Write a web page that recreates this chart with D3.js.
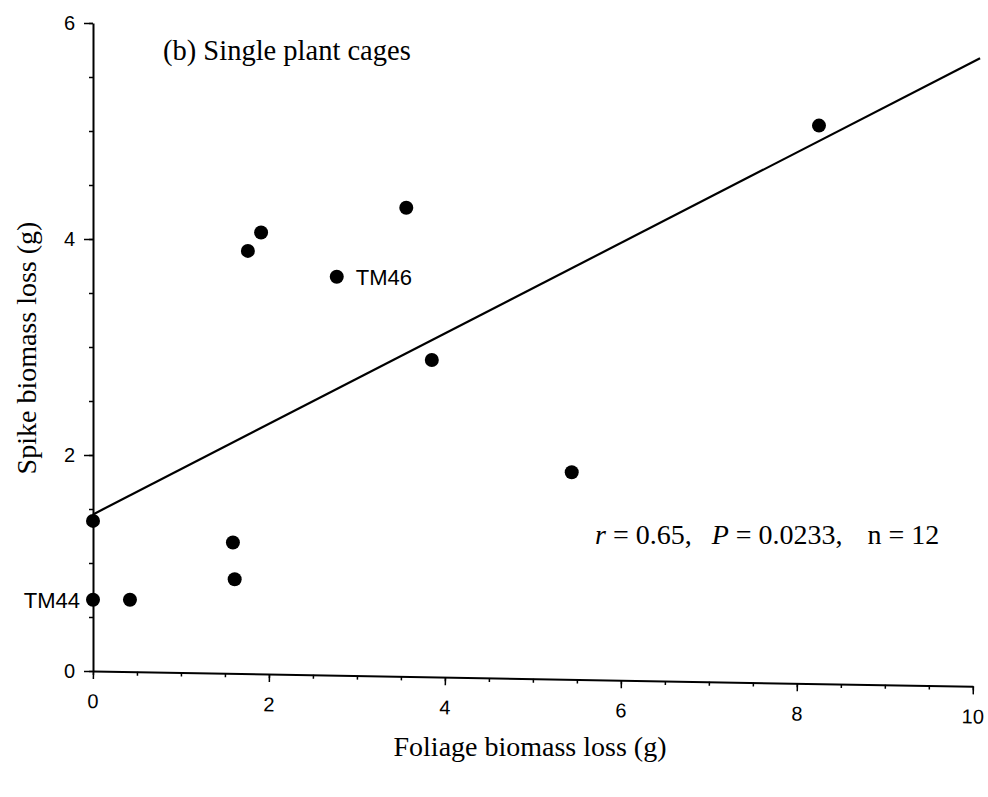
<!DOCTYPE html>
<html>
<head>
<meta charset="utf-8">
<script src="https://cdn.jsdelivr.net/npm/d3@7"></script>
<style>
  html, body { margin: 0; padding: 0; background: #fff; }
  svg { display: block; }
</style>
</head>
<body>
<svg id="chart" width="988" height="797"></svg>
<script>
// ---- data ----
const foliageLoss = [0, 0, 0.42, 1.59, 1.61, 1.76, 1.91, 2.77, 3.56, 3.85, 5.44, 8.25];
const spikeLoss   = [1.39, 0.66, 0.66, 1.19, 0.85, 3.89, 4.06, 3.65, 4.29, 2.88, 1.84, 5.05];
const pointLabels = ["", "TM44", "", "", "", "", "", "TM46", "", "", "", ""];
const fitIntercept = 1.45;
const fitSlope = 0.419;
const fitRange = [0, 10.08];
const xTicks = [0, 2, 4, 6, 8, 10];
const yTicks = [0, 2, 4, 6];
const xMinorTicks = d3.range(0, 10.01, 0.5);
const yMinorTicks = d3.range(0, 6.01, 0.5);
const titleText = "(b) Single plant cages";
const xTitle = "Foliage biomass loss (g)";
const yTitle = "Spike biomass loss (g)";
const statParts = [
  [{t: "r", i: true}, {t: "\u00a0=\u00a00.65,", i: false}],
  [{t: "P", i: true}, {t: "\u00a0=\u00a00.0233,", i: false}],
  [{t: "n\u00a0=\u00a012", i: false}]
];
const statValuesX = [5.705, 7.03, 8.8];

// ---- layout ----
const svg = d3.select("#chart");
const x = d3.scaleLinear().domain([0, 10]).range([93, 973]);
const y = d3.scaleLinear().domain([0, 6]).range([671, 23]);

const sans = "'Liberation Sans', Arial, sans-serif";
const serif = "'Liberation Serif', 'Times New Roman', serif";

// x axis (minor + major), slightly skewed as in the scanned original
const gx = svg.append("g").attr("transform", "translate(0,671) rotate(1,93,0)");
gx.call(d3.axisBottom(x).tickValues(xMinorTicks).tickSize(4).tickFormat(""));
gx.select(".domain").remove();
gx.selectAll(".tick line").attr("stroke-width", 1.5);
const gxMajor = svg.append("g").attr("transform", "translate(0,671) rotate(1,93,0)");
gxMajor.call(d3.axisBottom(x).tickValues(xTicks).tickSize(8).tickSizeOuter(0).tickPadding(15).tickFormat(d3.format("d")));
gxMajor.select(".domain").attr("stroke-width", 2);
gxMajor.selectAll(".tick line").attr("stroke-width", 1.5);
gxMajor.selectAll("text").attr("font-family", sans).attr("font-size", 20).attr("fill", "#000");

// y axis
const gy = svg.append("g").attr("transform", "translate(93,0)");
gy.call(d3.axisLeft(y).tickValues(yMinorTicks).tickSize(4).tickFormat(""));
gy.select(".domain").remove();
gy.selectAll(".tick line").attr("stroke-width", 1.5);
const gyMajor = svg.append("g").attr("transform", "translate(93,0)");
gyMajor.call(d3.axisLeft(y).tickValues(yTicks).tickSize(9).tickSizeOuter(0).tickPadding(9).tickFormat(d3.format("d")));
gyMajor.select(".domain").attr("stroke-width", 2);
gyMajor.selectAll(".tick line").attr("stroke-width", 1.5);
gyMajor.selectAll("text").attr("font-family", sans).attr("font-size", 20).attr("fill", "#000");

// regression line
svg.append("line")
  .attr("x1", x(fitRange[0])).attr("y1", y(fitIntercept + fitSlope * fitRange[0]))
  .attr("x2", x(fitRange[1])).attr("y2", y(fitIntercept + fitSlope * fitRange[1]))
  .attr("stroke", "#000").attr("stroke-width", 2.2);

// points
const pts = foliageLoss.map((v, i) => ({x: v, y: spikeLoss[i], label: pointLabels[i]}));
svg.append("g").selectAll("circle").data(pts).join("circle")
  .attr("cx", d => x(d.x)).attr("cy", d => y(d.y)).attr("r", 7)
  .attr("fill", "#000");

// point labels
svg.append("g").selectAll("text").data(pts.filter(d => d.label)).join("text")
  .attr("x", d => d.x === 0 ? x(d.x) - 13 : x(d.x) + 19)
  .attr("y", d => y(d.y))
  .attr("dy", "0.36em")
  .attr("text-anchor", d => d.x === 0 ? "end" : "start")
  .attr("font-family", sans).attr("font-size", 22)
  .text(d => d.label);

// panel title
svg.append("text").attr("x", 163).attr("y", 60)
  .attr("font-family", serif).attr("font-size", 28.5).text(titleText);

// stats annotation
statParts.forEach((parts, k) => {
  const t = svg.append("text").attr("x", x(statValuesX[k])).attr("y", 544)
    .attr("font-family", serif).attr("font-size", 28);
  parts.forEach(p => t.append("tspan").attr("font-style", p.i ? "italic" : "normal").text(p.t));
});

// axis titles
svg.append("text").attr("x", 530).attr("y", 756).attr("text-anchor", "middle")
  .attr("font-family", serif).attr("font-size", 28).text(xTitle);
svg.append("text").attr("transform", "translate(36,348) rotate(-90)").attr("text-anchor", "middle")
  .attr("font-family", serif).attr("font-size", 28).text(yTitle);
</script>
</body>
</html>
